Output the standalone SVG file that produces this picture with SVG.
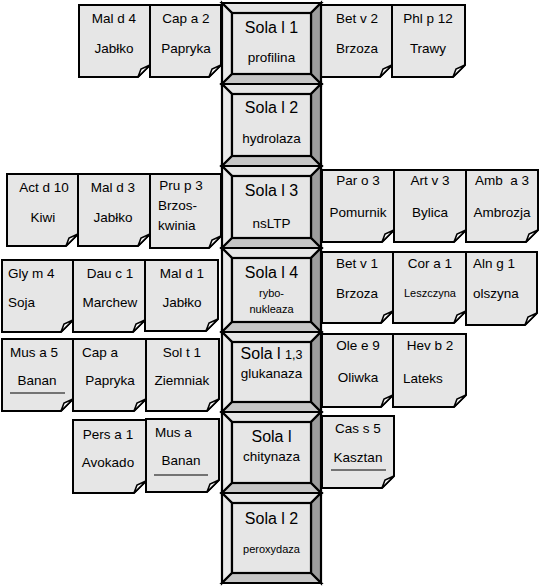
<svg xmlns="http://www.w3.org/2000/svg" width="551" height="587" viewBox="0 0 551 587">
<style>
text{font-family:"Liberation Sans",Arial,sans-serif;fill:#000}
.t{font-size:13.5px;text-anchor:middle}
.l{font-size:13.5px}
.s{font-size:11px;text-anchor:middle}
.h{font-size:16px;text-anchor:middle}
.note{fill:#e6e6e6;stroke:#000;stroke-width:2;stroke-linejoin:miter}
.flap{fill:#fff;stroke:#000;stroke-width:1.6;stroke-linejoin:miter}
.u{stroke:#000;stroke-width:1.2}
.bt{fill:#e6e6e6;stroke:#000;stroke-width:2.2;stroke-linejoin:miter}
.bl{fill:#ebebeb;stroke:#000;stroke-width:2.2;stroke-linejoin:miter}
.br{fill:#9c9c9c;stroke:#000;stroke-width:2.2;stroke-linejoin:miter}
.bb{fill:#c6c6c6;stroke:#000;stroke-width:2.2;stroke-linejoin:miter}
.bi{fill:#e6e6e6;stroke:#000;stroke-width:2.2}
</style>
<rect width="551" height="587" fill="#fff"/>
<g id="connectors"/>

<!-- notes -->
<g id="mald4"><path class="note" d="M79,5H150V65L138,77H79Z"/><path class="flap" d="M138,77L141,69L150,65Z"/><text class="t" x="114" y="23">Mal d 4</text><text class="t" x="114" y="53">Jabłko</text></g>
<g id="capa2"><path class="note" d="M150,5H221V65L209,77H150Z"/><path class="flap" d="M209,77L212,69L221,65Z"/><text class="t" x="186" y="23">Cap a 2</text><text class="t" x="186" y="53">Papryka</text></g>
<g id="betv2"><path class="note" d="M321,5H392V65L380,77H321Z"/><path class="flap" d="M380,77L383,69L392,65Z"/><text class="t" x="357" y="23">Bet v 2</text><text class="t" x="357" y="53">Brzoza</text></g>
<g id="phlp12"><path class="note" d="M392,5H465V65L453,77H392Z"/><path class="flap" d="M453,77L456,69L465,65Z"/><text class="t" x="428" y="23">Phl p 12</text><text class="t" x="428" y="53">Trawy</text></g>

<g id="actd10"><path class="note" d="M7,174H78V234L66,246H7Z"/><path class="flap" d="M66,246L69,238L78,234Z"/><text class="t" x="44" y="192">Act d 10</text><text class="t" x="43" y="222">Kiwi</text></g>
<g id="mald3"><path class="note" d="M78,174H150V234L138,246H78Z"/><path class="flap" d="M138,246L141,238L150,234Z"/><text class="t" x="113" y="192">Mal d 3</text><text class="t" x="113" y="222">Jabłko</text></g>
<g id="prup3"><path class="note" d="M150,174H221V236L209,248H150Z"/><path class="flap" d="M209,248L212,240L221,236Z"/><text class="t" x="181" y="190">Pru p 3</text><text class="l" x="158" y="210">Brzos-</text><text class="l" x="158" y="230">kwinia</text></g>

<g id="paro3"><path class="note" d="M322,170H394V230L382,242H322Z"/><path class="flap" d="M382,242L385,234L394,230Z"/><text class="t" x="358" y="185">Par o 3</text><text class="t" x="358" y="217">Pomurnik</text></g>
<g id="artv3"><path class="note" d="M394,170H466V230L454,242H394Z"/><path class="flap" d="M454,242L457,234L466,230Z"/><text class="t" x="430" y="185">Art v 3</text><text class="t" x="430" y="217">Bylica</text></g>
<g id="amba3"><path class="note" d="M466,170H538V230L526,242H466Z"/><path class="flap" d="M526,242L529,234L538,230Z"/><text class="t" x="502" y="185" xml:space="preserve">Amb  a 3</text><text class="t" x="502" y="217">Ambrozja</text></g>

<g id="glym4"><path class="note" d="M2,260H73V320L61,332H2Z"/><path class="flap" d="M61,332L64,324L73,320Z"/><text class="l" x="8" y="278">Gly m 4</text><text class="l" x="8" y="307">Soja</text></g>
<g id="dauc1"><path class="note" d="M73,260H145V320L133,332H73Z"/><path class="flap" d="M133,332L136,324L145,320Z"/><text class="t" x="110" y="278">Dau c 1</text><text class="t" x="110" y="307">Marchew</text></g>
<g id="mald1"><path class="note" d="M145,260H218V319L206,331H145Z"/><path class="flap" d="M206,331L209,323L218,319Z"/><text class="t" x="182" y="278">Mal d 1</text><text class="t" x="182" y="307">Jabłko</text></g>

<g id="betv1"><path class="note" d="M322,252H393V311L381,323H322Z"/><path class="flap" d="M381,323L384,315L393,311Z"/><text class="t" x="357" y="268">Bet v 1</text><text class="t" x="357" y="298">Brzoza</text></g>
<g id="cora1"><path class="note" d="M393,252H466V311L454,323H393Z"/><path class="flap" d="M454,323L457,315L466,311Z"/><text class="t" x="430" y="268">Cor a 1</text><text class="s" x="430" y="297">Leszczyna</text></g>
<g id="alng1"><path class="note" d="M466,252H537V313L525,325H466Z"/><path class="flap" d="M525,325L528,317L537,313Z"/><text class="l" x="473" y="268">Aln g 1</text><text class="l" x="473" y="298">olszyna</text></g>

<g id="musa5"><path class="note" d="M2,339H73V399L61,411H2Z"/><path class="flap" d="M61,411L64,403L73,399Z"/><text class="l" x="10" y="357">Mus a 5</text><text class="t" x="37" y="385">Banan</text><line class="u" x1="10" y1="393" x2="65" y2="393"/></g>
<g id="capa"><path class="note" d="M73,339H146V399L134,411H73Z"/><path class="flap" d="M134,411L137,403L146,399Z"/><text class="l" x="82" y="357">Cap a</text><text class="t" x="110" y="385">Papryka</text></g>
<g id="solt1"><path class="note" d="M146,339H219V399L207,411H146Z"/><path class="flap" d="M207,411L210,403L219,399Z"/><text class="t" x="182" y="357">Sol t 1</text><text class="t" x="182" y="385">Ziemniak</text></g>

<g id="persa1"><path class="note" d="M73,420H146V481L134,493H73Z"/><path class="flap" d="M134,493L137,485L146,481Z"/><text class="t" x="108" y="439">Pers a 1</text><text class="t" x="108" y="467">Avokado</text></g>
<g id="musa"><path class="note" d="M146,419H219V480L207,492H146Z"/><path class="flap" d="M207,492L210,484L219,480Z"/><text class="l" x="155" y="437">Mus a</text><text class="t" x="181" y="465">Banan</text><line class="u" x1="154" y1="475" x2="208" y2="475"/></g>

<g id="olee9"><path class="note" d="M322,334H393V395L381,407H322Z"/><path class="flap" d="M381,407L384,399L393,395Z"/><text class="t" x="358" y="350">Ole e 9</text><text class="t" x="358" y="382">Oliwka</text></g>
<g id="hevb2"><path class="note" d="M393,334H466V395L454,407H393Z"/><path class="flap" d="M454,407L457,399L466,395Z"/><text class="t" x="430" y="350">Hev b 2</text><text class="l" x="403" y="383">Lateks</text></g>
<g id="cass5"><path class="note" d="M322,416H394V476L382,488H322Z"/><path class="flap" d="M382,488L385,480L394,476Z"/><text class="t" x="358" y="433">Cas s 5</text><text class="t" x="358" y="462">Kasztan</text><line class="u" x1="331" y1="470" x2="386" y2="470"/></g>

<!-- bevel column -->
<g id="solal1" transform="translate(222,3)">
<polygon class="bt" points="0,0 99,0 89,10 10,10"/><polygon class="bl" points="0,0 10,10 10,71 0,81"/><polygon class="br" points="99,0 99,81 89,71 89,10"/><polygon class="bb" points="0,81 10,71 89,71 99,81"/><rect class="bi" x="10" y="10" width="79" height="61"/>
<text class="h" x="49.5" y="30">Sola l 1</text><text class="t" x="49.5" y="59">profilina</text></g>
<g id="solal2" transform="translate(222,84)">
<polygon class="bt" points="0,0 99,0 89,10 10,10"/><polygon class="bl" points="0,0 10,10 10,72 0,82"/><polygon class="br" points="99,0 99,82 89,72 89,10"/><polygon class="bb" points="0,82 10,72 89,72 99,82"/><rect class="bi" x="10" y="10" width="79" height="62"/>
<text class="h" x="49.5" y="29">Sola l 2</text><text class="t" x="49.5" y="59">hydrolaza</text></g>
<g id="solal3" transform="translate(222,166)">
<polygon class="bt" points="0,0 99,0 89,10 10,10"/><polygon class="bl" points="0,0 10,10 10,72 0,82"/><polygon class="br" points="99,0 99,82 89,72 89,10"/><polygon class="bb" points="0,82 10,72 89,72 99,82"/><rect class="bi" x="10" y="10" width="79" height="62"/>
<text class="h" x="49.5" y="30">Sola l 3</text><text class="t" x="49.5" y="62">nsLTP</text></g>
<g id="solal4" transform="translate(222,248)">
<polygon class="bt" points="0,0 99,0 89,10 10,10"/><polygon class="bl" points="0,0 10,10 10,74 0,84"/><polygon class="br" points="99,0 99,84 89,74 89,10"/><polygon class="bb" points="0,84 10,74 89,74 99,84"/><rect class="bi" x="10" y="10" width="79" height="64"/>
<text class="h" x="49.5" y="30">Sola l 4</text><text class="s" x="49.5" y="49">rybo-</text><text class="s" x="49.5" y="65">nukleaza</text></g>
<g id="solal13" transform="translate(222,332)">
<polygon class="bt" points="0,0 99,0 89,10 10,10"/><polygon class="bl" points="0,0 10,10 10,70 0,80"/><polygon class="br" points="99,0 99,80 89,70 89,10"/><polygon class="bb" points="0,80 10,70 89,70 99,80"/><rect class="bi" x="10" y="10" width="79" height="60"/>
<text class="h" x="49.5" y="27">Sola l <tspan font-size="12.5">1,3</tspan></text><text class="t" x="49.5" y="46">glukanaza</text></g>
<g id="solalch" transform="translate(222,412)">
<polygon class="bt" points="0,0 99,0 89,10 10,10"/><polygon class="bl" points="0,0 10,10 10,71 0,81"/><polygon class="br" points="99,0 99,81 89,71 89,10"/><polygon class="bb" points="0,81 10,71 89,71 99,81"/><rect class="bi" x="10" y="10" width="79" height="61"/>
<text class="h" x="49.5" y="30">Sola l</text><text class="t" x="49.5" y="49">chitynaza</text></g>
<g id="solal2p" transform="translate(222,493)">
<polygon class="bt" points="0,0 99,0 89,10 10,10"/><polygon class="bl" points="0,0 10,10 10,80 0,90"/><polygon class="br" points="99,0 99,90 89,80 89,10"/><polygon class="bb" points="0,90 10,80 89,80 99,90"/><rect class="bi" x="10" y="10" width="79" height="70"/>
<text class="h" x="49.5" y="31">Sola l 2</text><text class="s" x="49.5" y="60">peroxydaza</text></g>
</svg>
